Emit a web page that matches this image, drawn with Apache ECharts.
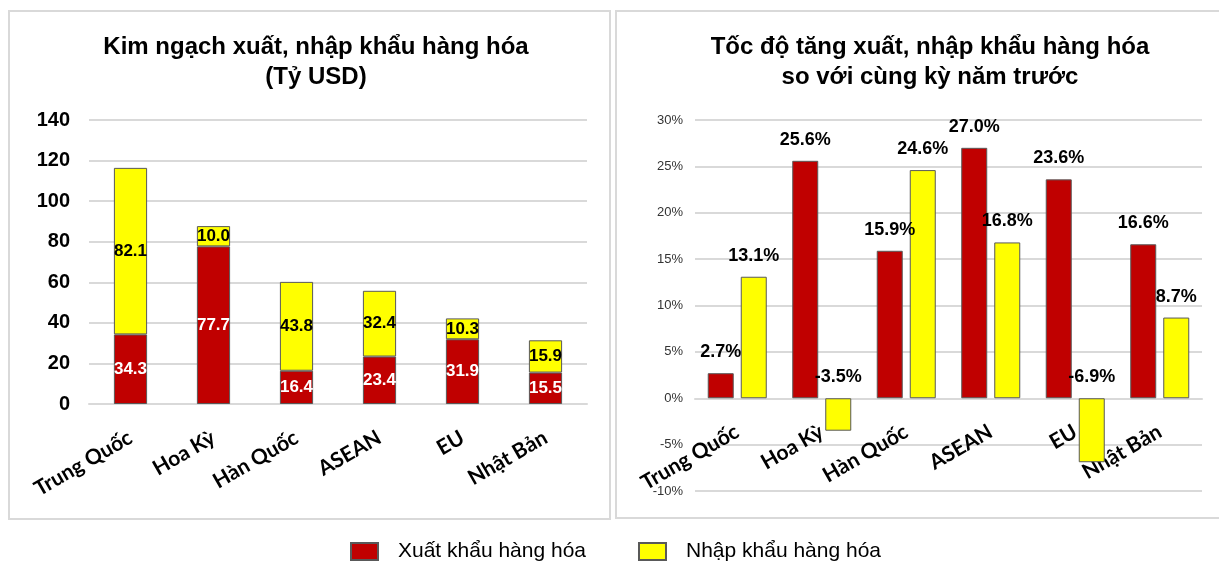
<!DOCTYPE html>
<html lang="vi">
<head>
    <meta charset="UTF-8">
    <title>Xuất nhập khẩu hàng hóa</title>
    <script src="https://cdn.jsdelivr.net/npm/echarts@6/dist/echarts.min.js"></script>
    <style>
        html, body { margin: 0; padding: 0; background: #fff; }
        #chart { width: 1219px; height: 561px; }
    </style>
</head>
<body>
    <div id="chart"></div>

    <script>
        // du lieu doc tu hinh
        var categories = ['Trung Quốc', 'Hoa Kỳ', 'Hàn Quốc', 'ASEAN', 'EU', 'Nhật Bản'];
        var exportValue = [34.3, 77.7, 16.4, 23.4, 31.9, 15.5];
        var importValue = [82.1, 10.0, 43.8, 32.4, 10.3, 15.9];
        var exportGrowth = [2.7, 25.6, 15.9, 27.0, 23.6, 16.6];
        var importGrowth = [13.1, -3.5, 24.6, 16.8, -6.9, 8.7];

        var exportName = 'Xuất khẩu hàng hóa';
        var importName = 'Nhập khẩu hàng hóa';

        var red = '#C00000';
        var yellow = '#FFFF00';
        var gridColor = '#d9d9d9';

        function catLabel(margin) {
            return {
                rotate: 30,
                margin: margin,
                fontFamily: 'Lato',
                fontWeight: 'bold',
                fontSize: 21,
                color: '#000'
            };
        }

        var myChart = echarts.init(document.getElementById('chart'));

        var option = {
            animation: false,
            textStyle: { fontFamily: 'Arial, "Liberation Sans", sans-serif' },
            title: [
                {
                    text: 'Kim ngạch xuất, nhập khẩu hàng hóa\n(Tỷ USD)',
                    left: 311, top: 27, textAlign: 'center',
                    textStyle: { fontSize: 24, fontWeight: 'bold', color: '#000', lineHeight: 30 }
                },
                {
                    text: 'Tốc độ tăng xuất, nhập khẩu hàng hóa\nso với cùng kỳ năm trước',
                    left: 925, top: 27, textAlign: 'center',
                    textStyle: { fontSize: 24, fontWeight: 'bold', color: '#000', lineHeight: 30 }
                }
            ],
            legend: {
                data: [exportName, importName],
                left: 345, top: 536,
                icon: 'rect',
                itemWidth: 27, itemHeight: 17,
                itemGap: 52,
                selectedMode: false,
                textStyle: { fontSize: 21, color: '#000', padding: [0, 0, 0, 15] }
            },
            graphic: [
                {
                    type: 'rect', silent: true,
                    shape: { x: 9, y: 11, width: 601, height: 508 },
                    style: { fill: 'none', stroke: gridColor, lineWidth: 2 }
                },
                {
                    type: 'rect', silent: true,
                    shape: { x: 616, y: 11, width: 620, height: 507 },
                    style: { fill: 'none', stroke: gridColor, lineWidth: 2 }
                }
            ],
            grid: [
                { left: 89, width: 498, top: 120, height: 284, outerBoundsMode: 'none' },
                { left: 695, width: 507, top: 120, height: 371, outerBoundsMode: 'none' }
            ],
            xAxis: [
                {
                    type: 'category', gridIndex: 0, data: categories,
                    axisLine: { lineStyle: { color: gridColor, width: 2 } },
                    axisTick: { show: false },
                    axisLabel: catLabel(32)
                },
                {
                    // nhan nam ngay duoi moc 0%, khong phai day luoi
                    type: 'category', gridIndex: 1, data: categories,
                    axisLine: { onZero: true, lineStyle: { color: gridColor, width: 2 } },
                    axisTick: { show: false },
                    axisLabel: catLabel(-61)
                }
            ],
            yAxis: [
                {
                    type: 'value', gridIndex: 0, min: 0, max: 140, interval: 20,
                    axisLine: { show: false },
                    axisTick: { show: false },
                    splitLine: { lineStyle: { color: gridColor, width: 2 } },
                    axisLabel: { fontSize: 20, fontWeight: 'bold', color: '#000', margin: 19 }
                },
                {
                    type: 'value', gridIndex: 1, min: -10, max: 30, interval: 5,
                    axisLine: { show: false },
                    axisTick: { show: false },
                    splitLine: { lineStyle: { color: gridColor, width: 2 } },
                    axisLabel: { fontSize: 13, color: '#333', margin: 12, formatter: '{value}%' }
                }
            ],
            series: [
                {
                    name: exportName, type: 'bar', stack: 'kn',
                    xAxisIndex: 0, yAxisIndex: 0,
                    data: exportValue, barWidth: '40%',
                    itemStyle: { color: red, borderColor: '#595959', borderWidth: 1 },
                    label: {
                        show: true, position: 'inside', color: '#fff',
                        fontSize: 17, fontWeight: 'bold',
                        formatter: function (p) { return p.value.toFixed(1); }
                    }
                },
                {
                    name: importName, type: 'bar', stack: 'kn',
                    xAxisIndex: 0, yAxisIndex: 0,
                    data: importValue, barWidth: '40%',
                    itemStyle: { color: yellow, borderColor: '#595959', borderWidth: 1 },
                    label: {
                        show: true, position: 'inside', color: '#000',
                        fontSize: 17, fontWeight: 'bold',
                        formatter: function (p) { return p.value.toFixed(1); }
                    }
                },
                {
                    name: exportName, type: 'bar',
                    xAxisIndex: 1, yAxisIndex: 1,
                    data: exportGrowth, barWidth: 26, barGap: '27%',
                    itemStyle: { color: red, borderColor: '#595959', borderWidth: 1 },
                    label: {
                        show: true, position: 'top', distance: 12, color: '#000',
                        fontSize: 18, fontWeight: 'bold',
                        formatter: function (p) { return p.value.toFixed(1) + '%'; }
                    }
                },
                {
                    name: importName, type: 'bar',
                    xAxisIndex: 1, yAxisIndex: 1,
                    data: importGrowth, barWidth: 26, barGap: '27%',
                    itemStyle: { color: yellow, borderColor: '#595959', borderWidth: 1 },
                    label: {
                        show: true, position: 'top', distance: 12, color: '#000',
                        fontSize: 18, fontWeight: 'bold',
                        formatter: function (p) { return p.value.toFixed(1) + '%'; }
                    }
                }
            ]
        };

        myChart.setOption(option);
    </script>
</body>
</html>
